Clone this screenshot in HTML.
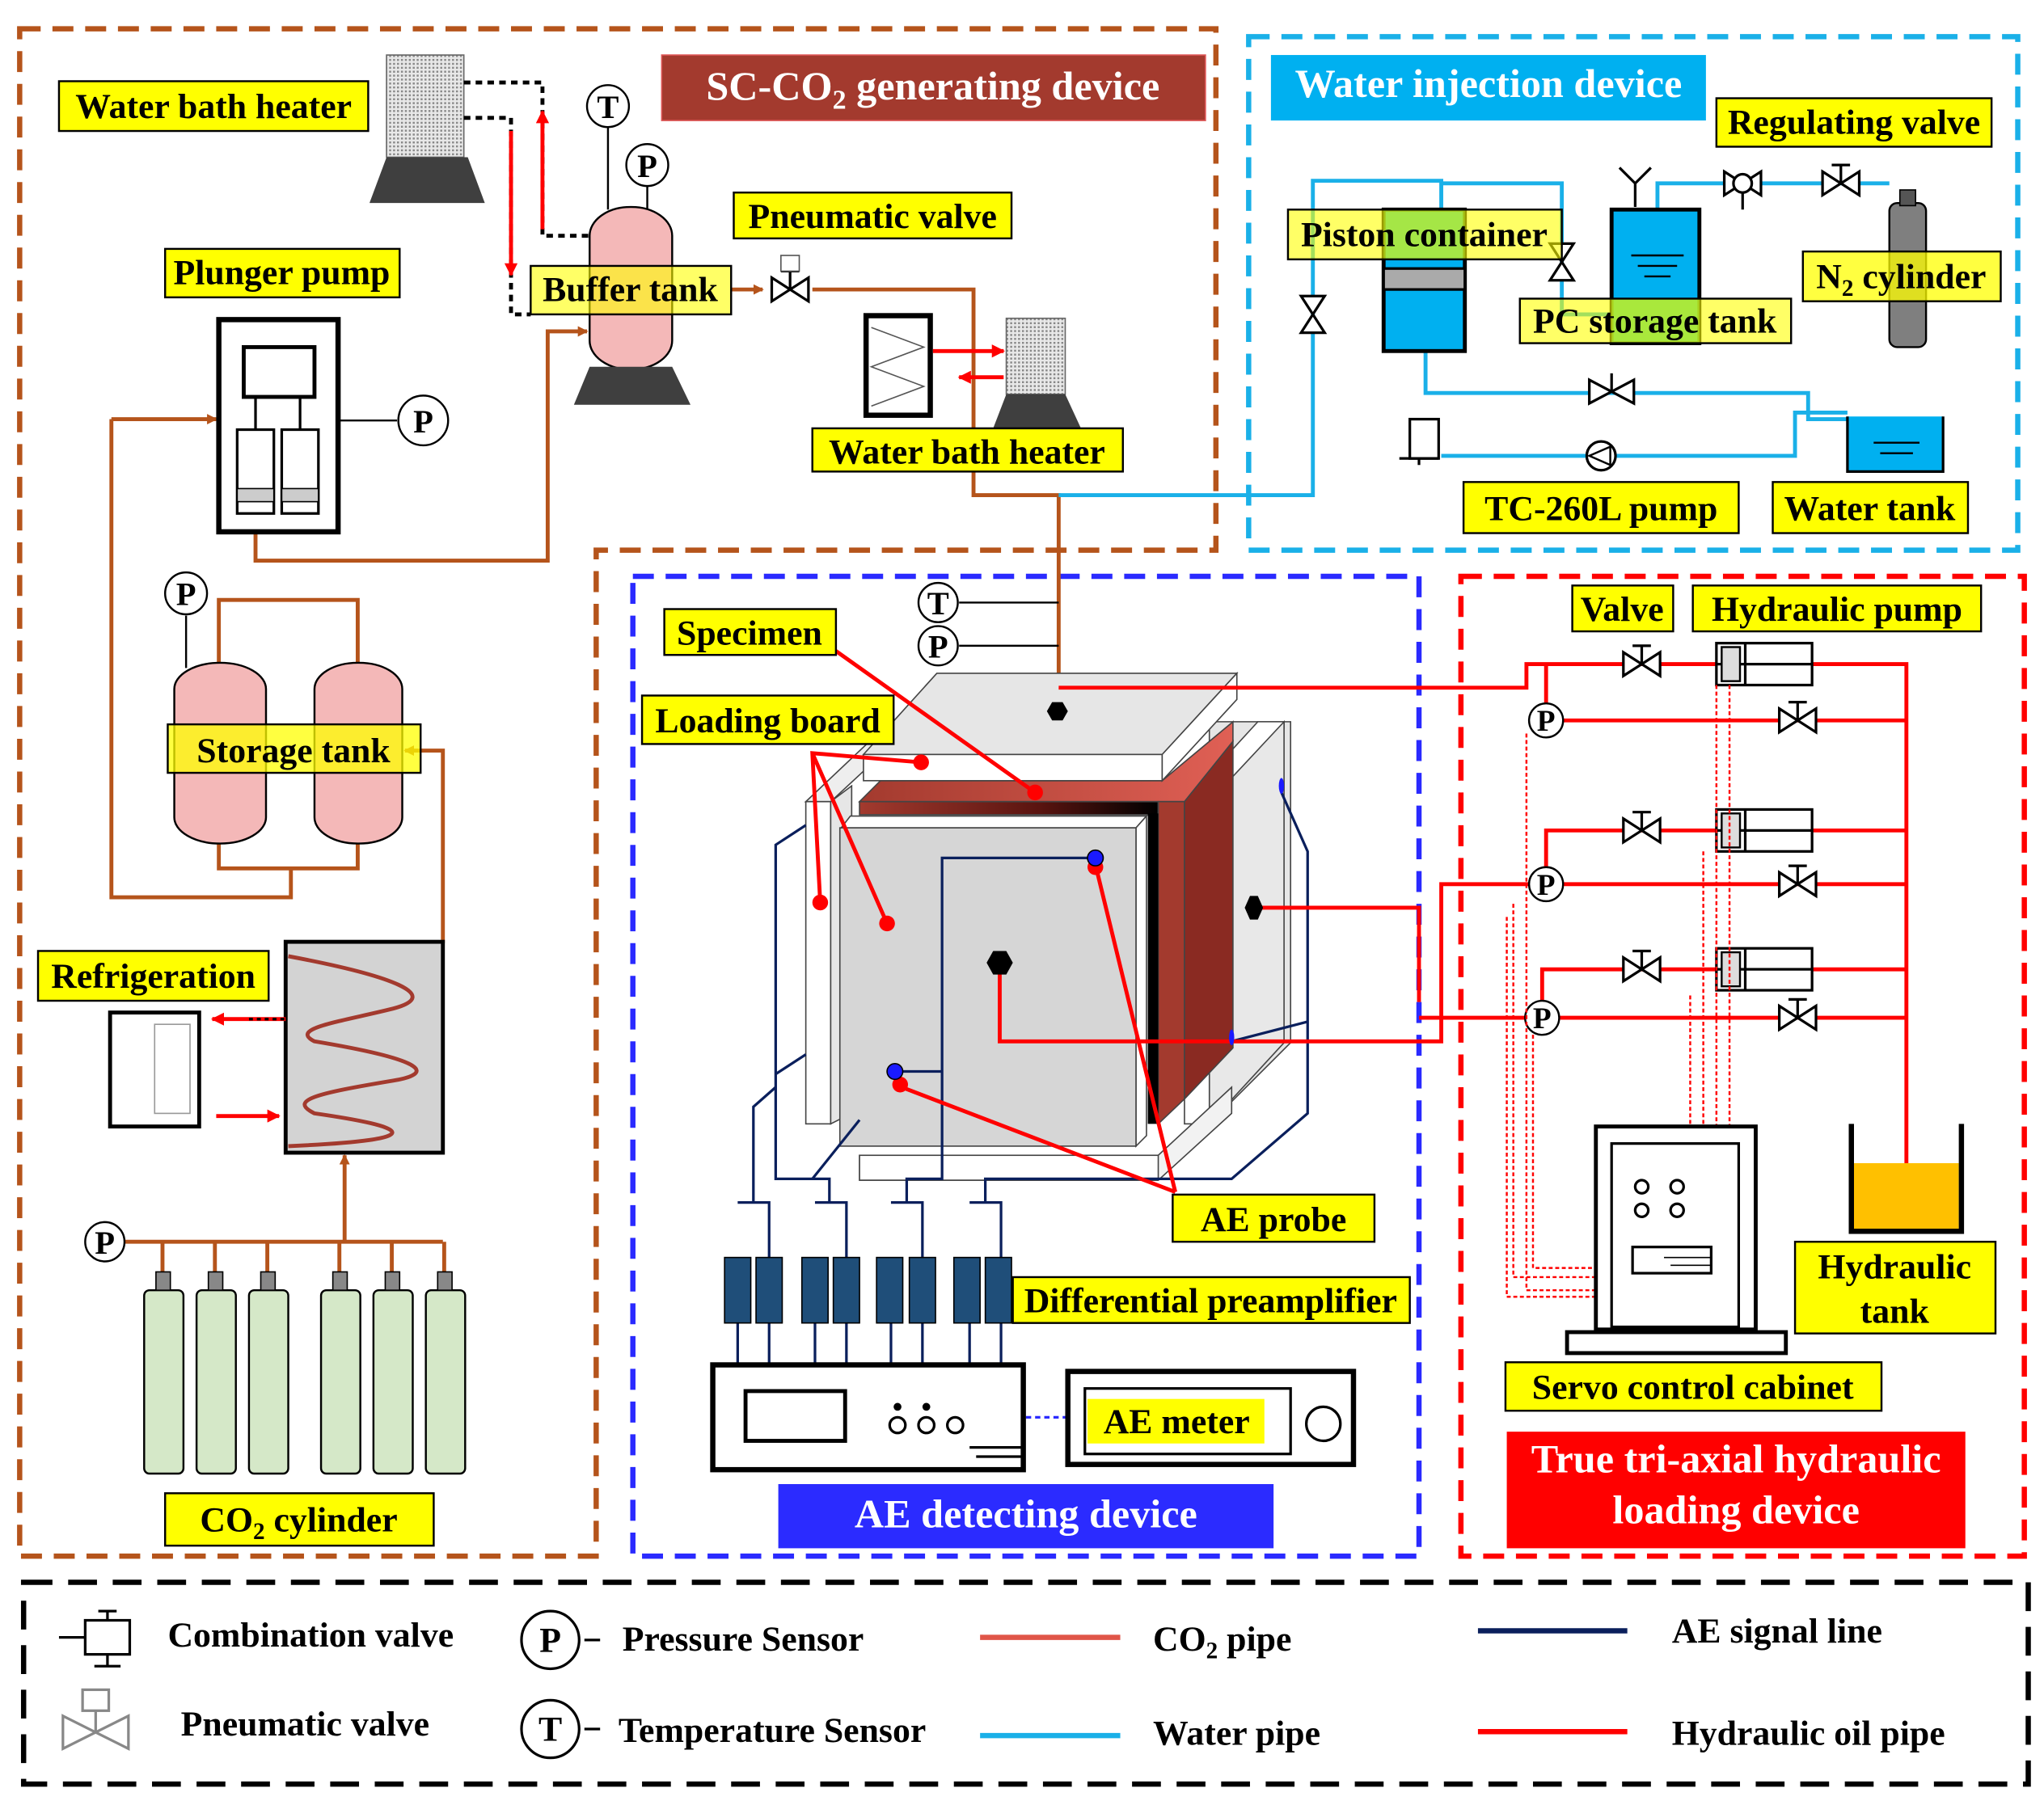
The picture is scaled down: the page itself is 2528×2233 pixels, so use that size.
<!DOCTYPE html>
<html><head><meta charset="utf-8"><style>
html,body{margin:0;padding:0;background:#fff}
svg{display:block}
text{font-family:"Liberation Serif",serif;font-weight:bold}
</style></head><body>
<svg width="2528" height="2233" viewBox="0 0 1560 1378" xmlns="http://www.w3.org/2000/svg">
<defs>
<pattern id="hatch" width="3" height="3" patternUnits="userSpaceOnUse"><rect width="3" height="3" fill="#e8e8e8"/><rect width="1.5" height="1.5" fill="#888"/></pattern>
<linearGradient id="rb" x1="0" x2="1" y1="0" y2="0"><stop offset="0" stop-color="#a33a2e"/><stop offset="0.6" stop-color="#5a1410"/><stop offset="1" stop-color="#000"/></linearGradient>
<linearGradient id="rt" x1="0" x2="1" y1="0" y2="0"><stop offset="0" stop-color="#a33a2e"/><stop offset="1" stop-color="#e06055"/></linearGradient>
<marker id="ab" markerWidth="8" markerHeight="8" refX="7" refY="4" orient="auto" markerUnits="userSpaceOnUse" viewBox="0 0 8 8"><path d="M0,0L8,4L0,8z" fill="#b5541b"/></marker>
<marker id="ar" markerWidth="10" markerHeight="10" refX="9" refY="5" orient="auto" markerUnits="userSpaceOnUse" viewBox="0 0 10 10"><path d="M0,0L10,5L0,10z" fill="#f00"/></marker>
<g id="valve"><path d="M-14,-9L14,9L14,-9L-14,9Z" fill="#fff" stroke="#000" stroke-width="2"/><line x1="0" y1="0" x2="0" y2="-14" stroke="#000" stroke-width="2"/><line x1="-7" y1="-14" x2="7" y2="-14" stroke="#000" stroke-width="2"/></g>
<g id="vvalve"><path d="M-9,-14L9,14L-9,14L9,-14Z" fill="#fff" stroke="#000" stroke-width="2"/></g>
<g id="hpump"><rect x="0" y="0" width="73" height="32" fill="#fff" stroke="#000" stroke-width="2"/><line x1="0" y1="16" x2="73" y2="16" stroke="#000" stroke-width="2"/><rect x="4" y="3" width="14" height="26" fill="#ddd" stroke="#000" stroke-width="1.5"/><line x1="22" y1="0" x2="22" y2="32" stroke="#000" stroke-width="2"/></g>
</defs>

<path d="M15,22H928V420H455V1188H15Z" fill="none" stroke="#b5541b" stroke-width="4" stroke-dasharray="16,9"/>
<rect x="953" y="28" width="587" height="392" fill="none" stroke="#1ab0e8" stroke-width="4" stroke-dasharray="16,9"/>
<rect x="483" y="440" width="600" height="748" fill="none" stroke="#2a2aff" stroke-width="4" stroke-dasharray="16,9"/>
<rect x="1115" y="440" width="430" height="748" fill="none" stroke="#f00" stroke-width="4" stroke-dasharray="16,9"/>
<rect x="18" y="1208" width="1530" height="154" fill="none" stroke="#000" stroke-width="4" stroke-dasharray="22,12"/>

<rect x="295" y="42" width="59" height="78" fill="url(#hatch)" stroke="#666"/>
<path d="M295,120H357L370,155H282Z" fill="#3f3f3f"/>
<rect x="450" y="158" width="63" height="124" rx="31" ry="22" fill="#f4b8b8" stroke="#000" stroke-width="1.5"/>
<path d="M450,280H513L527,309H438Z" fill="#3f3f3f"/>
<line x1="464" y1="97" x2="464" y2="160" stroke="#000" stroke-width="1.5"/>
<line x1="494" y1="142" x2="494" y2="160" stroke="#000" stroke-width="1.5"/>
<circle cx="464" cy="81" r="16" fill="#fff" stroke="#000" stroke-width="1.5"/><text x="464" y="90" font-size="25" text-anchor="middle">T</text>
<circle cx="494" cy="126" r="16" fill="#fff" stroke="#000" stroke-width="1.5"/><text x="494" y="135" font-size="25" text-anchor="middle">P</text>
<path d="M354,63H414V180H450" fill="none" stroke="#000" stroke-width="3" stroke-dasharray="5,4"/>
<path d="M354,90H390V240H405" fill="none" stroke="#000" stroke-width="3" stroke-dasharray="5,4"/>
<line x1="414" y1="175" x2="414" y2="85" stroke="#f00" stroke-width="3" marker-end="url(#ar)"/>
<line x1="390" y1="100" x2="390" y2="210" stroke="#f00" stroke-width="3" marker-end="url(#ar)"/>

<g fill="none" stroke="#b5541b" stroke-width="3">
<path d="M558,221H582" marker-end="url(#ab)"/>
<path d="M620,221H743V378H808V535"/>
<path d="M195,395V428H418V253H448" marker-end="url(#ab)"/>
<path d="M85,320H165" marker-end="url(#ab)"/>
<path d="M85,320V685H222V663"/>
<path d="M167,508V458H273V508"/>
<path d="M167,643V663H273V643"/>
<path d="M338,720V573H309" marker-end="url(#ab)"/>
<path d="M95,948H338"/>
<path d="M124,948V972M164,948V972M204,948V972M259,948V972M299,948V972M339,948V972"/>
<path d="M263,948V882" marker-end="url(#ab)"/>
</g>
<use href="#valve" x="603" y="221"/>
<rect x="596" y="195" width="14" height="12" fill="#fff" stroke="#555"/>

<rect x="167" y="244" width="91" height="162" fill="#fff" stroke="#000" stroke-width="4"/>
<rect x="186" y="265" width="54" height="38" fill="#fff" stroke="#000" stroke-width="3"/>
<rect x="181" y="328" width="28" height="64" fill="#fff" stroke="#000" stroke-width="2"/>
<rect x="215" y="328" width="28" height="64" fill="#fff" stroke="#000" stroke-width="2"/>
<rect x="181" y="373" width="28" height="10" fill="#ccc" stroke="#000"/>
<rect x="215" y="373" width="28" height="10" fill="#ccc" stroke="#000"/>
<line x1="195" y1="303" x2="195" y2="328" stroke="#000" stroke-width="2"/><line x1="229" y1="303" x2="229" y2="328" stroke="#000" stroke-width="2"/>
<line x1="258" y1="321" x2="303" y2="321" stroke="#000" stroke-width="1.5"/>
<circle cx="323" cy="321" r="19" fill="#fff" stroke="#000" stroke-width="1.5"/><text x="323" y="330" font-size="25" text-anchor="middle">P</text>

<rect x="133" y="506" width="70" height="138" rx="35" ry="20" fill="#f4b8b8" stroke="#000" stroke-width="1.5"/>
<rect x="240" y="506" width="67" height="138" rx="33" ry="20" fill="#f4b8b8" stroke="#000" stroke-width="1.5"/>
<line x1="142" y1="470" x2="142" y2="510" stroke="#000" stroke-width="1.5"/>
<circle cx="142" cy="453" r="16" fill="#fff" stroke="#000" stroke-width="1.5"/><text x="142" y="462" font-size="25" text-anchor="middle">P</text>

<rect x="84" y="773" width="68" height="87" fill="#fff" stroke="#000" stroke-width="3"/>
<rect x="118" y="782" width="27" height="68" fill="#fff" stroke="#999"/>
<rect x="218" y="719" width="120" height="161" fill="#d3d3d3" stroke="#000" stroke-width="3"/>
<path d="M220,730C300,745 338,760 300,770C260,780 220,785 240,795C330,810 330,820 300,825C240,835 220,840 240,850C310,860 335,870 220,875" fill="none" stroke="#a33a2e" stroke-width="3"/>
<line x1="218" y1="778" x2="162" y2="778" stroke="#f00" stroke-width="3" marker-end="url(#ar)"/>
<line x1="165" y1="852" x2="213" y2="852" stroke="#f00" stroke-width="3" marker-end="url(#ar)"/>
<line x1="190" y1="778" x2="218" y2="778" stroke="#000" stroke-width="2" stroke-dasharray="3,3"/>

<g fill="#d5e8c8" stroke="#000" stroke-width="1.5">
<rect x="110" y="985" width="30" height="140" rx="4"/><rect x="150" y="985" width="30" height="140" rx="4"/><rect x="190" y="985" width="30" height="140" rx="4"/>
<rect x="245" y="985" width="30" height="140" rx="4"/><rect x="285" y="985" width="30" height="140" rx="4"/><rect x="325" y="985" width="30" height="140" rx="4"/>
</g>
<g fill="#888" stroke="#000"><rect x="119" y="971" width="11" height="14"/><rect x="159" y="971" width="11" height="14"/><rect x="199" y="971" width="11" height="14"/><rect x="254" y="971" width="11" height="14"/><rect x="294" y="971" width="11" height="14"/><rect x="334" y="971" width="11" height="14"/></g>
<circle cx="80" cy="948" r="15" fill="#fff" stroke="#000" stroke-width="1.5"/><text x="80" y="957" font-size="25" text-anchor="middle">P</text>

<rect x="661" y="241" width="49" height="76" fill="#fff" stroke="#000" stroke-width="4"/>
<path d="M665,250L705,265L665,280L705,295L665,310" fill="none" stroke="#555"/>
<rect x="768" y="243" width="45" height="58" fill="url(#hatch)" stroke="#666"/>
<path d="M768,301H813L825,327H758Z" fill="#3f3f3f"/>
<line x1="712" y1="268" x2="766" y2="268" stroke="#f00" stroke-width="3" marker-end="url(#ar)"/>
<line x1="766" y1="288" x2="732" y2="288" stroke="#f00" stroke-width="3" marker-end="url(#ar)"/>

<g fill="none" stroke="#1ab0e8" stroke-width="3">
<path d="M808,378H1002V138H1100V160"/>
<path d="M1100,140H1192V240H1232"/>
<path d="M1088,268V300H1380V320H1420"/>
<path d="M1100,348H1370V315H1410"/>
<path d="M1265,160V140H1442"/>
</g>
<rect x="1056" y="160" width="62" height="108" fill="#00b0f0" stroke="#000" stroke-width="3"/>
<rect x="1056" y="205" width="62" height="16" fill="#aaa" stroke="#000" stroke-width="2"/>
<rect x="1056" y="160" width="62" height="38" fill="#3cd070" opacity="0.5"/>
<use href="#vvalve" x="1002" y="240"/>
<use href="#vvalve" x="1192" y="200"/>
<rect x="1230" y="160" width="67" height="102" fill="#00b0f0" stroke="#000" stroke-width="3"/>
<rect x="1230" y="228" width="67" height="34" fill="#3cd070" opacity="0.7"/>
<path d="M1245,195H1285M1250,203H1280M1255,211H1275" stroke="#000" stroke-width="1.5"/>
<path d="M1248,158V140M1248,140L1236,128M1248,140L1260,128" stroke="#000" stroke-width="2" fill="none"/>
<rect x="1442" y="155" width="28" height="110" rx="6" fill="#7f7f7f" stroke="#000" stroke-width="1.5"/>
<rect x="1450" y="145" width="12" height="12" fill="#555" stroke="#000"/>
<path d="M1316,131L1344,149L1344,131L1316,149Z" fill="#fff" stroke="#000" stroke-width="2"/><circle cx="1330" cy="140" r="7" fill="#fff" stroke="#000" stroke-width="2"/><line x1="1330" y1="147" x2="1330" y2="160" stroke="#000" stroke-width="2"/>
<use href="#valve" x="1405" y="140"/>
<path d="M1213,290L1247,308L1247,290L1213,308Z" fill="#fff" stroke="#000" stroke-width="2"/><line x1="1230" y1="299" x2="1230" y2="285" stroke="#000" stroke-width="2"/>
<rect x="1076" y="320" width="22" height="30" fill="#fff" stroke="#000" stroke-width="2"/><path d="M1068,350H1098M1083,350V355" stroke="#000" stroke-width="2"/>
<circle cx="1222" cy="348" r="11" fill="#fff" stroke="#000" stroke-width="2"/><path d="M1213,348L1229,341V355Z" fill="none" stroke="#000" stroke-width="1.5"/>
<path d="M1410,318V360H1483V318" fill="#00b0f0" stroke="#000" stroke-width="2"/>
<path d="M1430,338H1465M1435,346H1460" stroke="#000" stroke-width="1.5"/>

<!-- specimen 3D -->
<g stroke="#444" stroke-width="1">
<!-- back right plate -->
<path d="M923,551H985V796L923,858Z" fill="#e6e6e6"/>
<path d="M904,612L960,551H980V556L923,612Z" fill="#fff"/>
<path d="M923,612L980,551V796L923,858Z" fill="#e8e8e8"/>
<rect x="904" y="612" width="19" height="246" fill="#fff"/>
<!-- left plate -->
<path d="M615,612L670,560H690L634,612Z" fill="#eee"/>
<rect x="615" y="612" width="19" height="246" fill="#fff"/>
<path d="M634,612L650,600V850L634,858Z" fill="#e6e6e6"/>
<!-- bottom plate -->
<path d="M656,882H884L940,830V850L884,901H656Z" fill="#f2f2f2"/>
<rect x="656" y="882" width="228" height="19" fill="#fff"/>
<!-- red board -->
<path d="M656,612L672,596H887L941,551V566L904,612Z" fill="url(#rt)"/>
<rect x="656" y="612" width="228" height="10" fill="url(#rb)"/>
<path d="M884,612H904V839L884,858Z" fill="#a33a2e"/>
<path d="M904,612L941,566V800L904,839Z" fill="#8a2a22"/>
<rect x="876" y="621" width="8" height="237" fill="#000" stroke="none"/>
<!-- top plate -->
<path d="M715,514H944L887,576H659Z" fill="#e6e6e6"/>
<rect x="659" y="576" width="228" height="20" fill="#fff"/>
<path d="M887,576L944,514V534L887,596Z" fill="#fff"/>
<!-- front face -->
<path d="M649,623H875L867,632H642Z" fill="#fff"/>
<path d="M867,632L875,623V867L867,875Z" fill="#fff"/>
<rect x="641" y="632" width="226" height="243" fill="#d6d6d6"/>
</g>
<g fill="none" stroke="#0a1f5c" stroke-width="2">
<path d="M836,655H719V900H692V918"/>
<path d="M683,818H719"/>
<path d="M615,630L592,645V900H633V918"/>
<path d="M615,805L592,820"/>
<path d="M592,830L575,845V918"/>
<path d="M656,855L620,900"/>
<path d="M978,605L998,650V850L940,900H752V918"/>
<path d="M940,795L998,780"/>
<path d="M563,918H587V960M622,918H646V960M680,918H704V960M740,918H764V960"/>
<path d="M563,1010V1042M587,1010V1042M622,1010V1042M646,1010V1042M680,1010V1042M704,1010V1042M740,1010V1042M764,1010V1042"/>
<path d="M783,1082H815" stroke="#2a2aff" stroke-dasharray="4,3"/>
</g>
<g fill="#1f4e79" stroke="#000">
<rect x="553" y="960" width="20" height="50"/><rect x="577" y="960" width="20" height="50"/>
<rect x="612" y="960" width="20" height="50"/><rect x="636" y="960" width="20" height="50"/>
<rect x="669" y="960" width="20" height="50"/><rect x="694" y="960" width="20" height="50"/>
<rect x="728" y="960" width="20" height="50"/><rect x="752" y="960" width="20" height="50"/>
</g>
<rect x="544" y="1042" width="237" height="80" fill="#fff" stroke="#000" stroke-width="4"/>
<rect x="569" y="1062" width="76" height="38" fill="#fff" stroke="#000" stroke-width="3"/>
<circle cx="685" cy="1088" r="6" fill="#fff" stroke="#000" stroke-width="2"/><circle cx="707" cy="1088" r="6" fill="#fff" stroke="#000" stroke-width="2"/><circle cx="729" cy="1088" r="6" fill="#fff" stroke="#000" stroke-width="2"/>
<circle cx="685" cy="1074" r="3" fill="#000"/><circle cx="707" cy="1074" r="3" fill="#000"/>
<path d="M740,1105H781M745,1112H781" stroke="#000" stroke-width="2"/>
<rect x="815" y="1047" width="218" height="71" fill="#fff" stroke="#000" stroke-width="4"/>
<rect x="828" y="1060" width="157" height="50" fill="#fff" stroke="#000" stroke-width="2"/>
<circle cx="1010" cy="1087" r="13" fill="#fff" stroke="#000" stroke-width="2"/>

<path d="M732,460H808M732,493H808" stroke="#000" stroke-width="1.5"/>
<circle cx="716" cy="460" r="15" fill="#fff" stroke="#000" stroke-width="1.5"/><text x="716" y="469" font-size="25" text-anchor="middle">T</text>
<circle cx="716" cy="493" r="15" fill="#fff" stroke="#000" stroke-width="1.5"/><text x="716" y="502" font-size="25" text-anchor="middle">P</text>

<g fill="none" stroke="#f00" stroke-width="3">
<path d="M808,525H1165V507H1310"/>
<path d="M1180,507V550H1455"/>
<path d="M1383,507H1455V935"/>
<path d="M957,693H1083V765"/>
<path d="M763,735V795H1100V675H1455"/>
<path d="M1180,675V634H1310M1383,634H1455"/>
<path d="M1083,777H1455"/>
<path d="M1177,777V740H1310M1383,740H1455"/>
<path d="M703,582L620,575L626,689M620,575L677,705M638,497L790,605M897,910L836,660M897,910L683,828"/>
</g>
<g fill="#f00"><circle cx="703" cy="582" r="6"/><circle cx="790" cy="605" r="6"/><circle cx="626" cy="689" r="6"/><circle cx="677" cy="705" r="6"/><circle cx="836" cy="662" r="6"/><circle cx="687" cy="828" r="6"/></g>
<g fill="#1a1aff" stroke="#000"><circle cx="836" cy="655" r="6"/><circle cx="683" cy="818" r="6"/></g>
<g fill="#000"><path d="M799,543l4,-7h8l4,7l-4,7h-8z"/><path d="M753,735l5,-9h10l5,9l-5,9h-10z"/><path d="M950,693l4,-9h6l4,9l-4,9h-6z"/></g>
<g fill="#1a1aff"><ellipse cx="978" cy="600" rx="2" ry="6"/><ellipse cx="940" cy="792" rx="2" ry="6"/></g>

<use href="#hpump" x="1310" y="491"/><use href="#hpump" x="1310" y="618"/><use href="#hpump" x="1310" y="724"/>
<use href="#valve" x="1253" y="507"/><use href="#valve" x="1253" y="634"/><use href="#valve" x="1253" y="740"/>
<use href="#valve" x="1372" y="550"/><use href="#valve" x="1372" y="675"/><use href="#valve" x="1372" y="777"/>
<g fill="#fff" stroke="#000" stroke-width="1.5"><circle cx="1180" cy="550" r="13"/><circle cx="1180" cy="675" r="13"/><circle cx="1177" cy="777" r="13"/></g>
<g font-size="23" text-anchor="middle"><text x="1180" y="558">P</text><text x="1180" y="683">P</text><text x="1177" y="785">P</text></g>
<g fill="none" stroke="#f00" stroke-width="1.5" stroke-dasharray="3,2">
<path d="M1320,523V860M1310,523V860M1300,650V860M1290,760V860"/>
<path d="M1165,560V985H1218M1155,690V975H1218M1170,790V968H1218M1150,700V990H1218"/>
</g>
<rect x="1218" y="860" width="122" height="155" fill="#fff" stroke="#000" stroke-width="3"/>
<rect x="1230" y="873" width="97" height="140" fill="#fff" stroke="#000" stroke-width="2"/>
<rect x="1196" y="1017" width="167" height="16" fill="#fff" stroke="#000" stroke-width="3"/>
<g fill="#fff" stroke="#000" stroke-width="2"><circle cx="1253" cy="906" r="5"/><circle cx="1280" cy="906" r="5"/><circle cx="1253" cy="924" r="5"/><circle cx="1280" cy="924" r="5"/></g>
<rect x="1246" y="952" width="60" height="20" fill="#fff" stroke="#000" stroke-width="2"/><path d="M1270,960H1306M1275,966H1306" stroke="#000"/>
<rect x="1415" y="888" width="80" height="52" fill="#ffc000"/>
<path d="M1413,858V940H1497V858" fill="none" stroke="#000" stroke-width="4"/>

<g stroke="#000" stroke-width="1.5">
<rect x="45" y="62" width="236" height="38" fill="#ff0"/>
<rect x="1310" y="75" width="210" height="37" fill="#ff0"/>
<rect x="560" y="147" width="212" height="35" fill="#ff0"/>
<rect x="126" y="190" width="179" height="37" fill="#ff0"/>
<rect x="405" y="203" width="153" height="37" fill="#ff0" fill-opacity="0.6"/>
<rect x="983" y="160" width="209" height="38" fill="#ff0" fill-opacity="0.6"/>
<rect x="1376" y="192" width="151" height="38" fill="#ff0" fill-opacity="0.75"/>
<rect x="1160" y="228" width="207" height="34" fill="#ff0" fill-opacity="0.6"/>
<rect x="620" y="327" width="237" height="33" fill="#ff0"/>
<rect x="1117" y="368" width="210" height="39" fill="#ff0"/>
<rect x="1353" y="368" width="149" height="39" fill="#ff0"/>
<rect x="507" y="465" width="131" height="35" fill="#ff0"/>
<rect x="1200" y="447" width="77" height="35" fill="#ff0"/>
<rect x="1292" y="447" width="220" height="35" fill="#ff0"/>
<rect x="490" y="531" width="192" height="37" fill="#ff0"/>
<rect x="128" y="553" width="193" height="37" fill="#ff0" fill-opacity="0.75"/>
<rect x="29" y="726" width="176" height="38" fill="#ff0"/>
<rect x="895" y="912" width="154" height="36" fill="#ff0"/>
<rect x="773" y="975" width="303" height="35" fill="#ff0"/>
<rect x="1370" y="948" width="153" height="70" fill="#ff0"/>
<rect x="830" y="1068" width="135" height="34" fill="#ff0" stroke="none"/>
<rect x="1149" y="1040" width="287" height="37" fill="#ff0"/>
<rect x="126" y="1140" width="205" height="40" fill="#ff0"/>
</g>
<g font-size="27" text-anchor="middle" fill="#000">
<text x="163" y="90">Water bath heater</text>
<text x="1415" y="102">Regulating valve</text>
<text x="666" y="174">Pneumatic valve</text>
<text x="215" y="217">Plunger pump</text>
<text x="481" y="230">Buffer tank</text>
<text x="1087" y="188">Piston container</text>
<text x="1451" y="220">N<tspan font-size="18" dy="6">2</tspan><tspan dy="-6"> cylinder</tspan></text>
<text x="1263" y="254">PC storage tank</text>
<text x="738" y="354">Water bath heater</text>
<text x="1222" y="397">TC-260L pump</text>
<text x="1427" y="397">Water tank</text>
<text x="572" y="492">Specimen</text>
<text x="1238" y="474">Valve</text>
<text x="1402" y="474">Hydraulic pump</text>
<text x="586" y="559">Loading board</text>
<text x="224" y="582">Storage tank</text>
<text x="117" y="754">Refrigeration</text>
<text x="972" y="940">AE probe</text>
<text x="924" y="1002">Differential preamplifier</text>
<text x="1446" y="976">Hydraulic</text>
<text x="1446" y="1010">tank</text>
<text x="898" y="1094">AE meter</text>
<text x="1292" y="1068">Servo control cabinet</text>
<text x="228" y="1169">CO<tspan font-size="18" dy="6">2</tspan><tspan dy="-6"> cylinder</tspan></text>
</g>
<rect x="505" y="42" width="415" height="50" fill="#a33a2e" stroke="#d55" stroke-width="1"/>
<text x="712" y="76" font-size="31" fill="#fff" text-anchor="middle">SC-CO<tspan font-size="21" dy="7">2</tspan><tspan dy="-7"> generating device</tspan></text>
<rect x="970" y="42" width="332" height="50" fill="#00b0f0"/>
<text x="1136" y="74" font-size="31" fill="#fff" text-anchor="middle">Water injection device</text>
<rect x="594" y="1133" width="378" height="49" fill="#2b2bff"/>
<text x="783" y="1166" font-size="31" fill="#fff" text-anchor="middle">AE detecting device</text>
<rect x="1150" y="1093" width="350" height="89" fill="#f00"/>
<text x="1325" y="1124" font-size="31" fill="#fff" text-anchor="middle">True tri-axial hydraulic</text>
<text x="1325" y="1163" font-size="31" fill="#fff" text-anchor="middle">loading device</text>

<g stroke="#000" stroke-width="2" fill="#fff">
<path d="M45,1250H65"/><rect x="65" y="1237" width="34" height="26"/><path d="M82,1237V1230M75,1230H89M82,1263V1272M72,1272H92"/>
<path d="M48,1310L98,1335L98,1310L48,1335Z" stroke="#888"/><path d="M73,1322V1305" stroke="#888"/><rect x="63" y="1290" width="20" height="16" stroke="#888"/>
<circle cx="420" cy="1252" r="22"/><circle cx="420" cy="1320" r="22"/>
<path d="M446,1252H458M446,1320H458"/>
</g>
<g font-size="27" fill="#000">
<text x="420" y="1261" text-anchor="middle">P</text><text x="420" y="1329" text-anchor="middle">T</text>
<text x="128" y="1257">Combination valve</text>
<text x="138" y="1325">Pneumatic valve</text>
<text x="475" y="1260">Pressure Sensor</text>
<text x="472" y="1330">Temperature Sensor</text>
<text x="880" y="1260">CO<tspan font-size="18" dy="6">2</tspan><tspan dy="-6"> pipe</tspan></text>
<text x="880" y="1332">Water  pipe</text>
<text x="1276" y="1254">AE signal line</text>
<text x="1276" y="1332">Hydraulic oil pipe</text>
</g>
<g stroke-width="4"><path d="M748,1250H855" stroke="#e05548"/><path d="M748,1325H855" stroke="#1ab0e8"/><path d="M1128,1245H1242" stroke="#0a1f5c"/><path d="M1128,1322H1242" stroke="#f00"/></g>
</svg>
</body></html>
